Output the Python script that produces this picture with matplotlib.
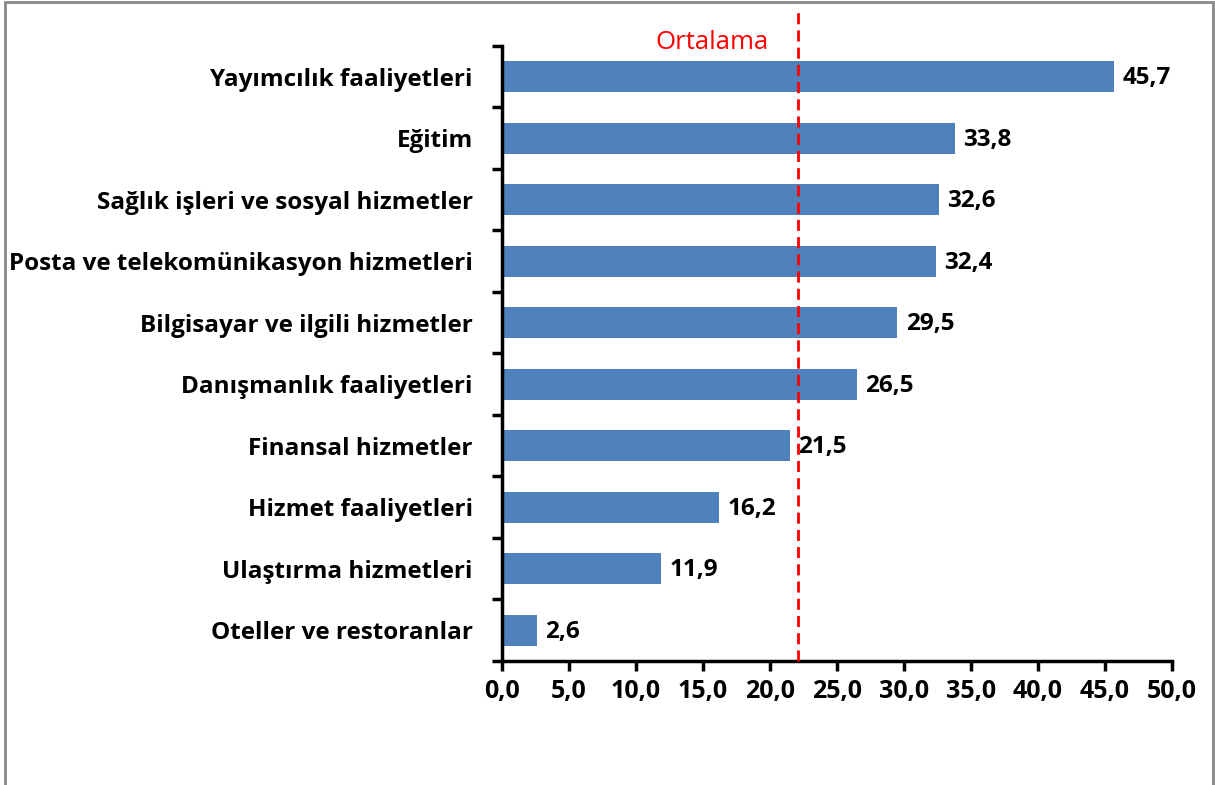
import numpy as np
import matplotlib
matplotlib.use('Agg')
import matplotlib.pyplot as plt
from matplotlib.patches import Rectangle

plt.rcParams['font.family'] = ['Open Sans', 'DejaVu Sans']

# Veriler
sektorler = ['Yayımcılık faaliyetleri', 'Eğitim', 'Sağlık işleri ve sosyal hizmetler',
             'Posta ve telekomünikasyon hizmetleri', 'Bilgisayar ve ilgili hizmetler',
             'Danışmanlık faaliyetleri', 'Finansal hizmetler', 'Hizmet faaliyetleri',
             'Ulaştırma hizmetleri', 'Oteller ve restoranlar']
degerler = [45.7, 33.8, 32.6, 32.4, 29.5, 26.5, 21.5, 16.2, 11.9, 2.6]
ortalama = 22.1
x_ticks = [0, 5, 10, 15, 20, 25, 30, 35, 40, 45, 50]


def fmt(v):
    return f'{v:.1f}'.replace('.', ',')


fig = plt.figure(figsize=(12.15, 7.85), dpi=100)
ax = fig.add_axes([0.4132, 0.158, 0.5514, 0.7835])

y = np.arange(len(sektorler))
ax.barh(y, degerler, height=0.5, color='#4F81BD')
ax.set_ylim(len(sektorler) - 0.5, -0.5)
ax.set_xlim(0, 50)

# deger etiketleri
for yi, v in zip(y, degerler):
    ax.annotate(fmt(v), (v, yi), xytext=(6, -1), textcoords='offset points',
                va='center', ha='left', fontsize=17.5, fontweight='bold')

# kategori etiketleri (tick'ler sinirlarda)
ax.set_yticks(np.arange(-0.5, len(sektorler) + 0.5, 1))
ax.set_yticklabels([])
ax.set_yticks(y, minor=True)
ax.set_yticklabels(sektorler, minor=True, fontsize=17.5, fontweight='bold')
ax.tick_params(axis='y', which='minor', length=0, pad=21)
ax.tick_params(axis='y', which='major', length=7, width=2.5, direction='out')

ax.set_xticks(x_ticks)
ax.set_xticklabels([fmt(t) for t in x_ticks], fontsize=18, fontweight='bold')
ax.tick_params(axis='x', length=7, width=2.5, direction='out', pad=6)

for s in ['top', 'right']:
    ax.spines[s].set_visible(False)
for s in ['left', 'bottom']:
    ax.spines[s].set_linewidth(2.5)

# ortalama cizgisi
ax.plot([ortalama, ortalama], [0, 1.06], transform=ax.get_xaxis_transform(),
        color='#FF0000', lw=2, ls=(0, (4, 2.2)), clip_on=False, zorder=3)
ax.text(15.7, 0.986, 'Ortalama', transform=ax.get_xaxis_transform(),
        color='#FF0000', fontsize=18.5, ha='center', va='bottom')

# cerceve
fig.patches.append(Rectangle((0.004, -0.01), 0.994, 1.008, transform=fig.transFigure,
                             fill=False, edgecolor='#888888', lw=2))

fig.savefig('out.png', dpi=100)
